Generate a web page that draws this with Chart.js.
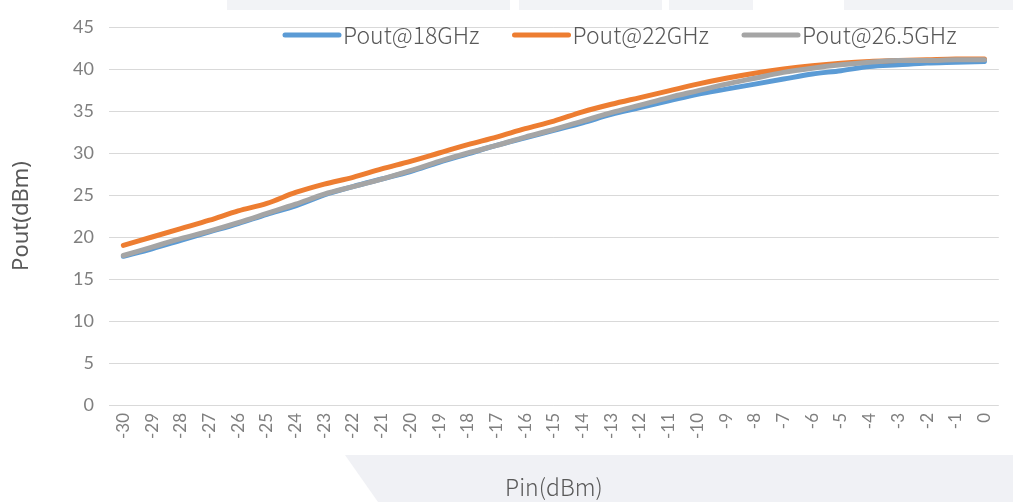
<!DOCTYPE html>
<html><head><meta charset="utf-8">
<script src="https://cdn.jsdelivr.net/npm/chart.js@4.4.0/dist/chart.umd.min.js"></script>
<style>html,body{margin:0;padding:0;background:#fff;overflow:hidden}canvas{display:block}</style>
</head><body>
<canvas id="c" width="1013" height="502"></canvas>
<script>
const categories = ['-30','-29','-28','-27','-26','-25','-24','-23','-22','-21','-20','-19','-18','-17','-16','-15','-14','-13','-12','-11','-10','-9','-8','-7','-6','-5','-4','-3','-2','-1','0'];
const pout18 = [17.7,18.6,19.6,20.6,21.6,22.7,23.7,25.0,26.0,26.9,27.8,28.9,29.9,30.9,31.8,32.7,33.6,34.6,35.4,36.2,37.0,37.6,38.2,38.8,39.4,39.8,40.3,40.5,40.7,40.8,40.9];
const pout22 = [19.0,20.0,21.0,22.0,23.1,24.0,25.3,26.3,27.1,28.1,29.0,30.0,31.0,31.9,32.9,33.8,34.9,35.8,36.6,37.4,38.2,38.9,39.5,40.0,40.4,40.7,40.9,41.0,41.1,41.2,41.2];
const pout265 = [17.8,18.8,19.8,20.7,21.7,22.8,23.9,25.1,26.0,26.9,27.9,29.0,30.0,30.9,31.9,32.8,33.8,34.8,35.7,36.6,37.4,38.2,38.9,39.6,40.1,40.5,40.8,41.0,41.0,41.1,41.1];
const seriesLabels = ['Pout@18GHz','Pout@22GHz','Pout@26.5GHz'];
const seriesColors = ['#5b9bd5','#ed7d31','#a5a5a5'];
const yTitle = 'Pout(dBm)';
const xTitle = 'Pin(dBm)';

const bgPlugin = {
  id: 'bg',
  beforeDraw(chart) {
    const ctx = chart.ctx;
    ctx.save();
    ctx.fillStyle = '#fff';
    ctx.fillRect(0, 0, chart.width, chart.height);
    ctx.fillStyle = '#f2f3f6';
    ctx.fillRect(227, 0, 283, 10);
    ctx.fillRect(519, 0, 143, 10);
    ctx.fillRect(669, 0, 84, 10);
    ctx.fillRect(844, 0, 169, 10);
    ctx.fillStyle = '#f0f1f5';
    ctx.beginPath();
    ctx.moveTo(345, 455);
    ctx.lineTo(1013, 455);
    ctx.lineTo(1013, 502);
    ctx.lineTo(378, 502);
    ctx.closePath();
    ctx.fill();
    ctx.restore();
  }
};

const legendPlugin = {
  id: 'customLegend',
  afterDraw(chart) {
    const ctx = chart.ctx;
    ctx.save();
    ctx.font = '300 23px "Noto Sans CJK SC", "Noto Sans", sans-serif';
    ctx.textBaseline = 'middle';
    ctx.textAlign = 'left';
    let x = 285;
    const y = 35;
    chart.data.datasets.forEach(ds => {
      ctx.strokeStyle = ds.borderColor;
      ctx.lineWidth = 5;
      ctx.lineCap = 'round';
      ctx.beginPath();
      ctx.moveTo(x, y);
      ctx.lineTo(x + 54, y);
      ctx.stroke();
      ctx.fillStyle = '#595959';
      ctx.fillText(ds.label, x + 58, y);
      x += 58 + ctx.measureText(ds.label).width + 35;
    });
    ctx.restore();
  }
};

const mk = (i, data, order) => ({
  label: seriesLabels[i], data, borderColor: seriesColors[i], backgroundColor: seriesColors[i],
  borderWidth: 5, pointRadius: 0, tension: 0.3, cubicInterpolationMode: 'monotone',
  borderCapStyle: 'round', borderJoinStyle: 'round', fill: false, order
});

new Chart(document.getElementById('c'), {
  type: 'line',
  data: {
    labels: categories,
    datasets: [mk(0, pout18, 2), mk(1, pout22, 1), mk(2, pout265, 0)]
  },
  options: {
    responsive: false,
    animation: false,
    devicePixelRatio: 1,
    layout: { padding: { top: 27, right: 9, left: 0, bottom: 0 } },
    plugins: { legend: { display: false }, tooltip: { enabled: false } },
    scales: {
      x: {
        offset: true,
        grid: { display: false, drawTicks: false },
        border: { display: false },
        ticks: { minRotation: 90, maxRotation: 90, autoSkip: false, padding: 8,
          color: '#7f7f7f', font: { family: 'Lato, "Noto Sans", sans-serif', size: 17 } },
        title: { display: true, text: xTitle, color: '#595959',
          font: { family: '"Noto Sans CJK SC", "Noto Sans", sans-serif', size: 23, weight: 300, lineHeight: 1.2 },
          padding: { top: 0, bottom: 1 } },
        afterFit(s) { s.height = 97; }
      },
      y: {
        min: 0, max: 45,
        grid: { color: '#d9d9d9', lineWidth: 1, drawTicks: false },
        border: { display: false },
        ticks: { stepSize: 5, padding: 15, color: '#7f7f7f',
          font: { family: 'Lato, "Noto Sans", sans-serif', size: 18 } },
        title: { display: true, text: yTitle, color: '#595959',
          font: { family: '"Noto Sans", sans-serif', size: 22, lineHeight: 1.2 },
          padding: { top: 9, bottom: 0 } },
        afterFit(s) { s.width = 109; }
      }
    }
  },
  plugins: [bgPlugin, legendPlugin]
});
</script>
</body></html>
